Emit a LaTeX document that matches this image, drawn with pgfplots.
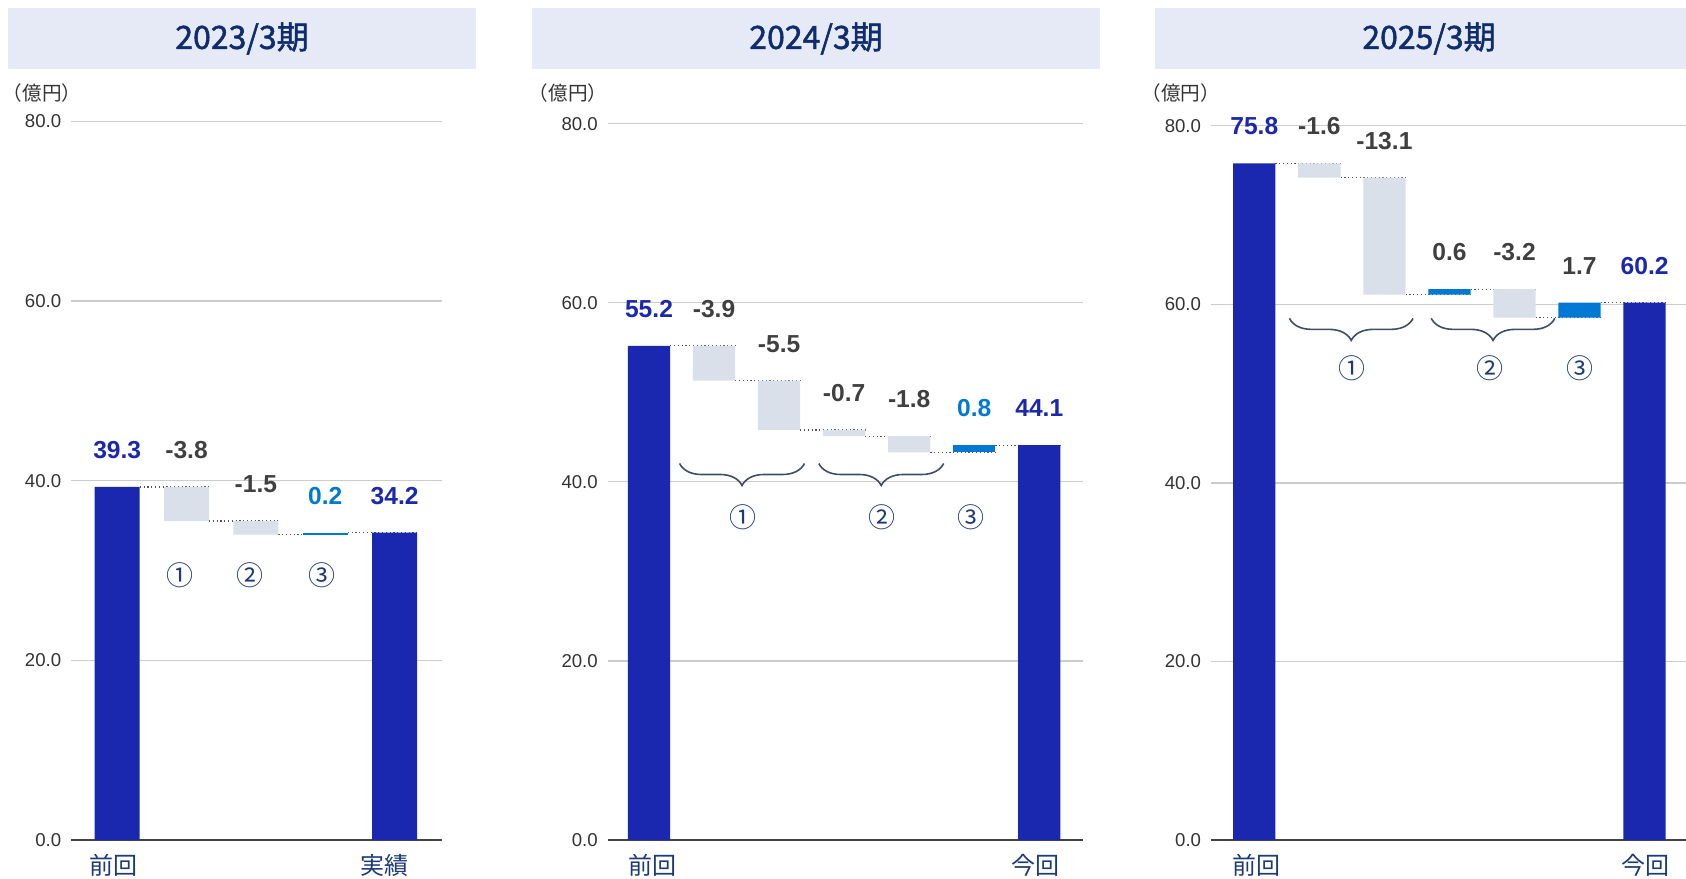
\documentclass[border=0pt]{standalone}
\usepackage{pgfplots}
\pgfplotsset{compat=1.18}
\usetikzlibrary{decorations.pathreplacing}
\usepackage{fontspec}
\setmainfont{Liberation Sans}
\newfontfamily\cjk{Noto Sans CJK JP}
\newfontfamily\cjkm[FakeBold=1.5]{Noto Sans CJK JP}

\definecolor{tot}{HTML}{1928AF}
\definecolor{neg}{HTML}{D9E0EA}
\definecolor{pos}{HTML}{0078D4}
\definecolor{labg}{HTML}{404040}
\definecolor{navy}{HTML}{1B3A78}
\definecolor{hdr}{HTML}{E6EAF6}
\definecolor{hdrt}{HTML}{0E2C6E}
\definecolor{gridc}{HTML}{CCCCCC}
\definecolor{basec}{HTML}{444444}
\definecolor{tickc}{HTML}{333333}
\definecolor{dotc}{HTML}{555555}
\definecolor{brc}{HTML}{3D4E6B}

\protected\def\vt#1{\textcolor{tot}{#1}}
\protected\def\vn#1{\textcolor{labg}{#1}}
\protected\def\vp#1{\textcolor{pos}{#1}}

\pgfplotsset{
  panel/.style={scale only axis, anchor=south west, ymin=0, ymax=80, clip=false},
  bg/.style={panel, axis line style={draw=none}, major tick length=0pt,
    ytick={20,40,60,80}, yticklabels={20.0,40.0,60.0,80.0},
    extra y ticks={0}, extra y tick labels={0.0},
    extra y tick style={grid=major, grid style={color=basec, line width=0.8pt}},
    ymajorgrids, grid style={color=gridc, line width=0.6pt},
    yticklabel style={font=\fontsize{9.3}{10}\selectfont, text=tickc, anchor=east, inner sep=0pt, xshift=-4.7pt},
    xticklabel style={font=\cjk\fontsize{12}{14}\selectfont, text=navy, anchor=center, inner sep=0pt, yshift=-12.8pt}},
  fg/.style={panel, hide axis, ybar stacked, bar width=0.65},
  conn/.style={draw=dotc, line width=0.6pt, dash pattern=on 0.6pt off 1.3pt, mark=none, unbounded coords=jump, forget plot},
  vals/.style={draw=none, mark=none, nodes near coords, point meta=explicit symbolic,
    every node near coord/.append style={anchor=center, yshift=18.5pt, inner sep=0pt,
      font=\bfseries\fontsize{12.3}{14}\selectfont}},
}
\tikzset{
  br/.style={decorate, decoration={brace, mirror, amplitude=11pt}, draw=brc, line width=0.8pt},
  circ/.style={font=\cjk\fontsize{13.5}{15}\selectfont, text=navy},
  hd/.style={font=\cjkm\fontsize{16}{18}\selectfont, text=hdrt},
  unit/.style={font=\cjk\fontsize{9.8}{11}\selectfont, text=tickc},
}

\begin{document}
\begin{tikzpicture}
\path[use as bounding box] (0,0) rectangle (843pt,439pt);
\clip (0,0) rectangle (843pt,439pt);

% headers
\fill[hdr] (4pt,404.5pt) rectangle (238pt,435pt);
\fill[hdr] (266pt,404.5pt) rectangle (550pt,435pt);
\fill[hdr] (577.5pt,404.5pt) rectangle (850pt,435pt);
\node[hd] at (121pt,419.75pt) {2023/3期};
\node[hd] at (408pt,419.75pt) {2024/3期};
\node[hd] at (714.5pt,419.75pt) {2025/3期};
\node[unit] at (21pt,392.25pt) {（億円）};
\node[unit] at (284pt,392.25pt) {（億円）};
\node[unit] at (590.3pt,392.25pt) {（億円）};

% ---- 2023/3
\begin{axis}[bg, at={(35.5pt,19.1pt)}, width=185.5pt, height=359.15pt,
  xmin=-0.666, xmax=4.683, xtick={-0.05,3.86}, xticklabels={前回,実績}]
\addplot[conn] coordinates {(0.325,39.3)(1.325,39.3)(1.325,nan)(1.325,35.5)(2.325,35.5)(2.325,nan)
  (2.325,34.0)(3.325,34.0)(3.325,nan)(3.325,34.2)(4.325,34.2)};
\addplot[vals] coordinates {(0,39.3)[\vt{39.3}] (1,39.3)[\vn{-3.8}] (2,35.5)[\vn{-1.5}]
  (3,34.2)[\vp{0.2}] (4,34.2)[\vt{34.2}]};
\node[circ] at (axis cs:0.90,29.45) {①};
\node[circ] at (axis cs:1.92,29.45) {②};
\node[circ] at (axis cs:2.95,29.45) {③};
\end{axis}
\begin{axis}[fg, at={(35.5pt,19.1pt)}, width=185.5pt, height=359.15pt, xmin=-0.666, xmax=4.683]
\addplot[draw=none, fill=none] coordinates {(0,0)(1,35.5)(2,34.0)(3,34.0)(4,0)};
\addplot[draw=none, fill=tot] coordinates {(0,39.3)(1,0)(2,0)(3,0)(4,34.2)};
\addplot[draw=none, fill=neg] coordinates {(0,0)(1,3.8)(2,1.5)(3,0)(4,0)};
\addplot[draw=none, fill=pos] coordinates {(0,0)(1,0)(2,0)(3,0.2)(4,0)};
\end{axis}

% ---- 2024/3
\begin{axis}[bg, at={(303.75pt,19pt)}, width=237.65pt, height=358.15pt,
  xmin=-0.638, xmax=6.669, xtick={0.06,5.94}, xticklabels={前回,今回}]
\addplot[conn] coordinates {(0.325,55.2)(1.325,55.2)(1.325,nan)(1.325,51.3)(2.325,51.3)(2.325,nan)
  (2.325,45.8)(3.325,45.8)(3.325,nan)(3.325,45.1)(4.325,45.1)(4.325,nan)
  (4.325,43.3)(5.325,43.3)(5.325,nan)(5.325,44.1)(6.325,44.1)};
\addplot[vals] coordinates {(0,55.2)[\vt{55.2}] (1,55.2)[\vn{-3.9}] (2,51.3)[\vn{-5.5}]
  (3,45.8)[\vn{-0.7}] (4,45.1)[\vn{-1.8}] (5,44.1)[\vp{0.8}] (6,44.1)[\vt{44.1}]};
\draw[br] (axis cs:0.47,42.05) -- (axis cs:2.39,42.05);
\draw[br] (axis cs:2.61,42.05) -- (axis cs:4.53,42.05);
\node[circ] at (axis cs:1.45,36.05) {①};
\node[circ] at (axis cs:3.58,36.05) {②};
\node[circ] at (axis cs:4.95,36.05) {③};
\end{axis}
\begin{axis}[fg, at={(303.75pt,19pt)}, width=237.65pt, height=358.15pt, xmin=-0.638, xmax=6.669]
\addplot[draw=none, fill=none] coordinates {(0,0)(1,51.3)(2,45.8)(3,45.1)(4,43.3)(5,43.3)(6,0)};
\addplot[draw=none, fill=tot] coordinates {(0,55.2)(1,0)(2,0)(3,0)(4,0)(5,0)(6,44.1)};
\addplot[draw=none, fill=neg] coordinates {(0,0)(1,3.9)(2,5.5)(3,0.7)(4,1.8)(5,0)(6,0)};
\addplot[draw=none, fill=pos] coordinates {(0,0)(1,0)(2,0)(3,0)(4,0)(5,0.8)(6,0)};
\end{axis}

% ---- 2025/3
\begin{axis}[bg, at={(605.4pt,19pt)}, width=239.65pt, height=357.1pt,
  xmin=-0.669, xmax=6.7, xtick={0.03,6.01}, xticklabels={前回,今回}]
\addplot[conn] coordinates {(0.325,75.8)(1.325,75.8)(1.325,nan)(1.325,74.2)(2.325,74.2)(2.325,nan)
  (2.325,61.1)(3.325,61.1)(3.325,nan)(3.325,61.7)(4.325,61.7)(4.325,nan)
  (4.325,58.5)(5.325,58.5)(5.325,nan)(5.325,60.2)(6.325,60.2)};
\addplot[vals] coordinates {(0,75.8)[\vt{75.8}] (1,75.8)[\vn{-1.6}] (2,74.2)[\vn{-13.1}]
  (3,61.7)[\vn{0.6}] (4,61.7)[\vn{-3.2}] (5,60.2)[\vn{1.7}] (6,60.2)[\vt{60.2}]};
\draw[br] (axis cs:0.54,58.43) -- (axis cs:2.44,58.43);
\draw[br] (axis cs:2.72,58.43) -- (axis cs:4.62,58.43);
\node[circ] at (axis cs:1.50,52.9) {①};
\node[circ] at (axis cs:3.63,52.9) {②};
\node[circ] at (axis cs:5.00,52.9) {③};
\end{axis}
\begin{axis}[fg, at={(605.4pt,19pt)}, width=239.65pt, height=357.1pt, xmin=-0.669, xmax=6.7]
\addplot[draw=none, fill=none] coordinates {(0,0)(1,74.2)(2,61.1)(3,61.1)(4,58.5)(5,58.5)(6,0)};
\addplot[draw=none, fill=tot] coordinates {(0,75.8)(1,0)(2,0)(3,0)(4,0)(5,0)(6,60.2)};
\addplot[draw=none, fill=neg] coordinates {(0,0)(1,1.6)(2,13.1)(3,0)(4,3.2)(5,0)(6,0)};
\addplot[draw=none, fill=pos] coordinates {(0,0)(1,0)(2,0)(3,0.6)(4,0)(5,1.7)(6,0)};
\end{axis}
\end{tikzpicture}
\end{document}
